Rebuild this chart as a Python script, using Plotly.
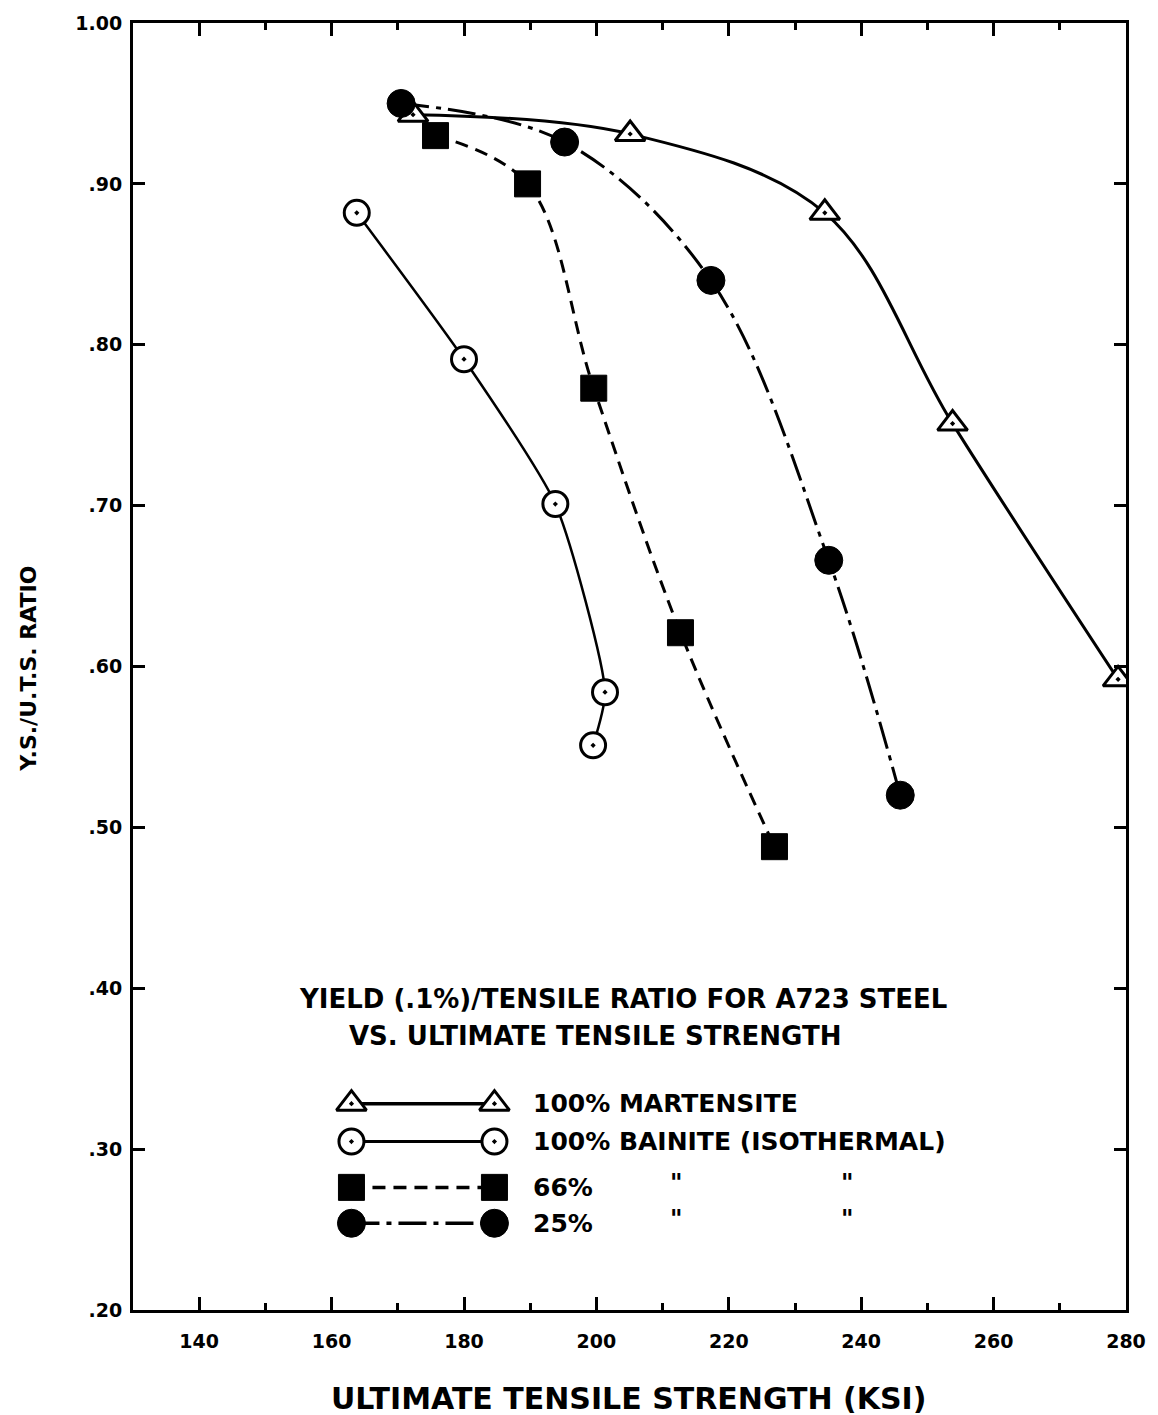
import plotly.graph_objects as go

# ---------------- data ----------------
mart_x = [172.3, 205.1, 234.5, 253.8, 278.8]
mart_y = [0.943, 0.931, 0.882, 0.751, 0.592]

bain_x = [163.8, 180.0, 193.8, 201.3, 199.5]
bain_y = [0.882, 0.791, 0.701, 0.584, 0.551]

b66_x = [175.7, 189.6, 199.6, 212.7, 226.9]
b66_y = [0.930, 0.900, 0.773, 0.621, 0.488]

b25_x = [170.5, 195.2, 217.3, 235.1, 245.9]
b25_y = [0.950, 0.926, 0.840, 0.666, 0.520]

x_ticks = [140, 150, 160, 170, 180, 190, 200, 210, 220, 230, 240, 250, 260, 270, 280]
x_major = [140, 160, 180, 200, 220, 240, 260, 280]
y_ticks = [1.00, 0.90, 0.80, 0.70, 0.60, 0.50, 0.40, 0.30, 0.20]
y_text = ["1.00", ".90", ".80", ".70", ".60", ".50", ".40", ".30", ".20"]

series_names = ["100% MARTENSITE", "100% BAINITE (ISOTHERMAL)", "66%", "25%"]
chart_title = ["YIELD (.1%)/TENSILE RATIO FOR A723 STEEL", "VS. ULTIMATE TENSILE STRENGTH"]
x_title = "ULTIMATE TENSILE STRENGTH (KSI)"
y_title = "Y.S./U.T.S. RATIO"
ditto = '"'

FONT = "DejaVu Sans"
BLACK = "#000000"

W, H = 1158, 1415
L, R, T, B = 133, 1133, 19, 1310

styles = [
    dict(symbol="triangle-up-dot", size=26, color="white", lw=3, dash="solid", width=3),
    dict(symbol="circle-dot", size=25, color="white", lw=3, dash="solid", width=2.5),
    dict(symbol="square", size=26, color=BLACK, lw=1, dash="13px,8px", width=3),
    dict(symbol="circle", size=28, color=BLACK, lw=1, dash="28px,7px,5px,7px", width=3),
]
smooth = [1.0, 0.6, 1.0, 1.0]

fig = go.Figure()
data = [(mart_x, mart_y), (bain_x, bain_y), (b66_x, b66_y), (b25_x, b25_y)]
for (xs, ys), st, nm, sm in zip(data, styles, series_names, smooth):
    fig.add_trace(go.Scatter(
        x=xs, y=ys, mode="lines+markers", name=nm, showlegend=False,
        line=dict(color=BLACK, width=st["width"], dash=st["dash"], shape="spline", smoothing=sm),
        marker=dict(symbol=st["symbol"], size=st["size"], color=st["color"],
                    line=dict(color=BLACK, width=st["lw"])),
    ))

# ---------- in-plot legend (pixel-coordinate overlay axes) ----------
leg_x0, leg_x1, leg_text_x = 353, 497, 534
leg_rows = [1103, 1141, 1187, 1223]
for st, ry, nm in zip(styles, leg_rows, series_names):
    fig.add_trace(go.Scatter(
        x=[leg_x0, leg_x1], y=[ry, ry], xaxis="x2", yaxis="y2",
        mode="lines+markers", showlegend=False, hoverinfo="skip",
        line=dict(color=BLACK, width=st["width"] + 0.5, dash=st["dash"]),
        marker=dict(symbol=st["symbol"], size=st["size"], color=st["color"],
                    line=dict(color=BLACK, width=st["lw"])),
    ))


def px(xp):
    return (xp - L) / (R - L)


def py(yp):
    return (B - yp) / (B - T)


annotations = []
for ry, nm in zip(leg_rows, series_names):
    annotations.append(dict(x=leg_text_x, y=ry, xref="x2", yref="y2", text=nm,
                            showarrow=False, xanchor="left", yanchor="middle",
                            font=dict(family=FONT, size=25, color=BLACK, weight="bold")))
for ry in leg_rows[2:]:
    for dx in (680, 853):
        annotations.append(dict(x=dx, y=ry - 4, xref="x2", yref="y2", text=ditto,
                                showarrow=False, xanchor="center", yanchor="middle",
                                font=dict(family=FONT, size=24, color=BLACK, weight="bold")))
annotations.append(dict(x=298, y=998, xref="x2", yref="y2", text=chart_title[0],
                        showarrow=False, xanchor="left", yanchor="middle",
                        font=dict(family=FONT, size=26, color=BLACK, weight="bold")))
annotations.append(dict(x=348, y=1035, xref="x2", yref="y2", text=chart_title[1],
                        showarrow=False, xanchor="left", yanchor="middle",
                        font=dict(family=FONT, size=26, color=BLACK, weight="bold")))
# axis titles
annotations.append(dict(x=px(632), y=py(1399), xref="paper", yref="paper", text=x_title,
                        showarrow=False, xanchor="center", yanchor="middle",
                        font=dict(family=FONT, size=30, color=BLACK, weight="bold")))
annotations.append(dict(x=px(28), y=py(667), xref="paper", yref="paper",
                        text=y_title, textangle=-90,
                        showarrow=False, xanchor="center", yanchor="middle",
                        font=dict(family=FONT, size=22, color=BLACK, weight="bold")))

fig.update_layout(
    width=W, height=H,
    margin=dict(l=L, r=W - R, t=T, b=H - B),
    paper_bgcolor="white", plot_bgcolor="white",
    font=dict(family=FONT, color=BLACK),
    xaxis=dict(
        range=[130, 280], showgrid=False, zeroline=False,
        showline=True, linecolor=BLACK, linewidth=3, mirror="ticks",
        ticks="inside", tickvals=x_major, ticktext=[str(v) for v in x_major],
        ticklen=13, tickwidth=3, tickcolor=BLACK,
        minor=dict(tickvals=x_ticks, ticks="inside", ticklen=7, tickwidth=3, tickcolor=BLACK),
        tickfont=dict(family=FONT, size=19, color=BLACK, weight="bold"),
        ticklabelstandoff=12,
    ),
    yaxis=dict(
        range=[0.20, 1.00], showgrid=False, zeroline=False,
        showline=True, linecolor=BLACK, linewidth=3, mirror="ticks",
        ticks="inside", tickvals=y_ticks, ticktext=y_text,
        ticklen=12, tickwidth=3, tickcolor=BLACK,
        tickfont=dict(family=FONT, size=19, color=BLACK, weight="bold"),
        ticklabelstandoff=4,
    ),
    xaxis2=dict(range=[L, R], overlaying="x", visible=False, fixedrange=True),
    yaxis2=dict(range=[B, T], overlaying="y", visible=False, fixedrange=True),
    annotations=annotations,
)

fig.write_html("out.html")
